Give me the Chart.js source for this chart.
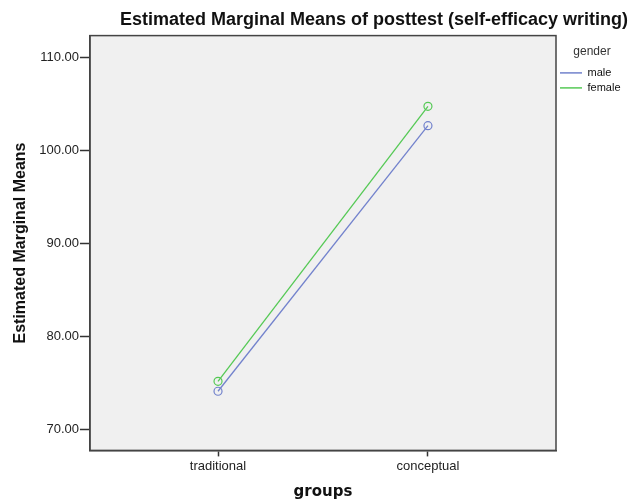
<!DOCTYPE html>
<html>
<head>
<meta charset="utf-8">
<script src="https://cdn.jsdelivr.net/npm/chart.js@4"></script>
<style>
  html, body { margin: 0; padding: 0; background: #fff; }
  #wrap { width: 638px; height: 501px; }
</style>
</head>
<body>
<div id="wrap"><canvas id="chart"></canvas></div>
<script>
const groups = ['traditional', 'conceptual'];
const male = [74.13, 102.69];
const female = [75.2, 104.77];
const yTicks = [70, 80, 90, 100, 110];

// grey plot area and closed frame, SPSS style
const plotBackground = {
  id: 'plotBackground',
  beforeDraw(chart) {
    const { ctx, chartArea: a } = chart;
    ctx.save();
    ctx.fillStyle = '#f0f0f0';
    ctx.fillRect(a.left, a.top, a.width, a.height);
    ctx.restore();
  },
  afterDraw(chart) {
    const { ctx, chartArea: a } = chart;
    ctx.save();
    ctx.strokeStyle = '#444';
    ctx.lineWidth = 1.5;
    ctx.strokeRect(a.left, a.top, a.width, a.height);
    ctx.restore();
  },
};

const toPoints = (vals) => vals.map((v, i) => ({ x: i + 1, y: v }));

const config = {
  type: 'line',
  data: {
    datasets: [
      {
        label: 'male',
        data: toPoints(male),
        borderColor: '#7282cc',
        backgroundColor: 'rgba(0,0,0,0)',
        borderWidth: 1.3,
        pointRadius: 4,
        pointBorderWidth: 1.2,
      },
      {
        label: 'female',
        data: toPoints(female),
        borderColor: '#55c955',
        backgroundColor: 'rgba(0,0,0,0)',
        borderWidth: 1.3,
        pointRadius: 4,
        pointBorderWidth: 1.2,
      },
    ],
  },
  options: {
    responsive: true,
    maintainAspectRatio: false,
    animation: false,
    layout: { padding: { left: 11, right: 10, top: 0, bottom: 0 } },
    scales: {
      x: {
        type: 'linear',
        min: 0.39,
        max: 2.61,
        afterBuildTicks: (axis) => {
          axis.ticks = groups.map((g, i) => ({ value: i + 1 }));
        },
        ticks: {
          callback: (v) => groups[v - 1],
          color: '#222',
          font: { family: 'Liberation Sans', size: 13 },
          padding: 2,
          maxRotation: 0,
        },
        grid: { drawOnChartArea: false, tickLength: 6, color: '#333', tickWidth: 1.5 },
        border: { color: '#444', width: 1.5 },
        title: {
          display: true,
          text: 'groups',
          color: '#111',
          font: { family: 'DejaVu Sans', size: 15, weight: 'bold' },
          padding: { top: 7, bottom: 0 },
        },
      },
      y: {
        min: 67.77,
        max: 112.37,
        afterBuildTicks: (axis) => {
          axis.ticks = yTicks.map((v) => ({ value: v }));
        },
        ticks: {
          callback: (v) => v.toFixed(2),
          color: '#222',
          font: { family: 'Liberation Sans', size: 13 },
          padding: 1,
        },
        grid: { drawOnChartArea: false, tickLength: 10, color: '#333', tickWidth: 1.5 },
        border: { color: '#444', width: 1.5 },
        title: {
          display: true,
          text: 'Estimated Marginal Means',
          color: '#111',
          font: { family: 'Liberation Sans', size: 16, weight: 'bold' },
          padding: { top: 0, bottom: 8 },
        },
      },
    },
    plugins: {
      title: {
        display: true,
        align: 'end',
        text: 'Estimated Marginal Means of posttest (self-efficacy writing)',
        color: '#111',
        font: { family: 'Liberation Sans', size: 18, weight: 'bold' },
        padding: { top: 9, bottom: 5 },
      },
      legend: {
        position: 'right',
        align: 'start',
        maxWidth: 72,
        title: {
          display: true,
          text: 'gender',
          color: '#333',
          font: { family: 'Liberation Sans', size: 12 },
          padding: { top: 46, bottom: 3 },
        },
        labels: {
          usePointStyle: true,
          pointStyle: 'line',
          pointStyleWidth: 22,
          color: '#111',
          font: { family: 'Liberation Sans', size: 11 },
          padding: 4,
          generateLabels: (chart) =>
            chart.data.datasets.map((ds, i) => ({
              text: ds.label,
              strokeStyle: ds.borderColor,
              fillStyle: ds.borderColor,
              lineWidth: 1.5,
              pointStyle: 'line',
              datasetIndex: i,
              fontColor: '#111',
            })),
        },
      },
      tooltip: { enabled: false },
    },
  },
  plugins: [plotBackground],
};

new Chart(document.getElementById('chart'), config);
</script>
</body>
</html>
